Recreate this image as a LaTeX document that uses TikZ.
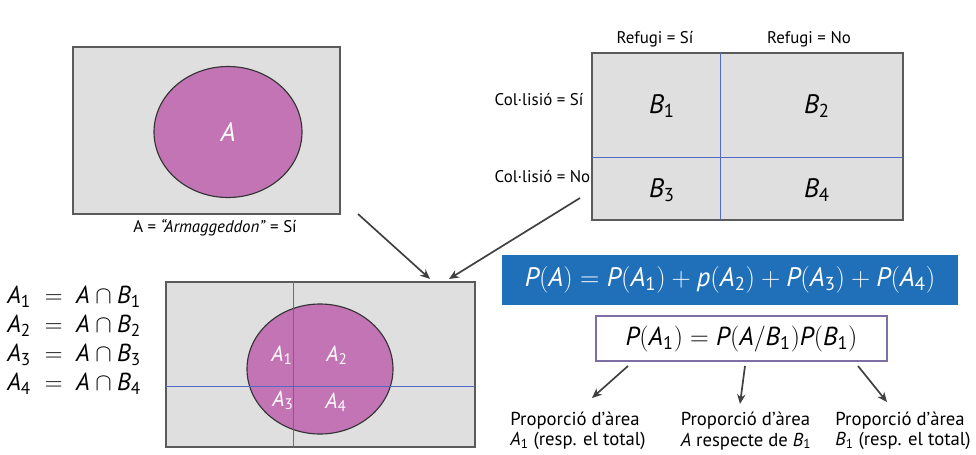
\RequirePackage{fix-cm}
\documentclass[tikz,border=0pt]{standalone}
\usepackage{amsmath}
\usepackage{fontspec}
\setmainfont{PT Sans}
\usetikzlibrary{arrows.meta,positioning}

\definecolor{panelgray}{HTML}{DEDFDE}
\definecolor{paneledge}{HTML}{5B5B5B}
\definecolor{blobpink}{HTML}{C274B5}
\definecolor{gridblue}{HTML}{5468C8}
\definecolor{boxblue}{HTML}{1F6FB9}
\definecolor{boxedge}{HTML}{7D6EA6}
\definecolor{arrowgray}{HTML}{404040}

\newcommand{\ev}[2]{\textit{#1}_{\text{#2}}}
\newcommand{\evi}[1]{\textit{#1}}

\tikzset{
  panel/.style={draw=paneledge, line width=1.5pt, fill=panelgray},
  blob/.style={draw=black!80, line width=0.8pt, fill=blobpink},
  gridline/.style={draw=gridblue, line width=0.5pt},
  pointer/.style={draw=arrowgray, line width=1.2pt, -{Stealth[length=7pt,width=6pt]}},
  tag/.style={font=\fontsize{12}{14}\selectfont, inner sep=1pt},
  setname/.style={font=\fontsize{19}{21}\selectfont, inner sep=1pt},
  partname/.style={font=\fontsize{15.5}{17}\selectfont, text=white, inner sep=1pt},
  formula/.style={font=\fontsize{18.5}{21}\selectfont, inner sep=0pt},
  note/.style={font=\fontsize{13.3}{14.5}\selectfont, align=left, inner sep=1pt}
}

\begin{document}
\begin{tikzpicture}[x=0.025cm, y=-0.025cm]
\useasboundingbox[fill=white] (0,0) rectangle (976,455);

% event A
\draw[panel] (73,47) rectangle (340,214);
\draw[blob] (228,132) ellipse [x radius=74, y radius=65.5];
\node[setname, text=white] (lblA) at (228,132) {\textit{A}};
\node[tag] (armag) at (215,228) {A = \textit{“Armaggeddon”} = Sí};
\coordinate (fromA) at (358,214);

% partition B
\draw[panel] (592,53) rectangle (903,220);
\draw[gridline] (720,53) -- (720,220);
\draw[gridline] (592,157) -- (903,157);
\node[setname] (b1) at (662,106) {$\ev{B}{1}$};
\node[setname] (b2) at (817,106) {$\ev{B}{2}$};
\node[setname] (b3) at (662,190) {$\ev{B}{3}$};
\node[setname] (b4) at (817,190) {$\ev{B}{4}$};
\node[tag] (refsi) at (655,39) {Refugi = Sí};
\node[tag] (refno) at (809,39) {Refugi = No};
\node[tag, anchor=west] (colsi) at (493,100) {Col·lisió = Sí};
\node[tag, anchor=west] (colno) at (493,177) {Col·lisió = No};
\coordinate (fromB) at (580,198);

% A cut by the partition
\draw[panel] (166,282) rectangle (475,447);
\draw[blob] (320,369) ellipse [x radius=73, y radius=65];
\draw[gridline] (293,282) -- (293,447);
\draw[gridline] (166,386) -- (475,386);
\node[partname] (a1) at (282,355) {$\ev{A}{1}$};
\node[partname] (a2) at (337,355) {$\ev{A}{2}$};
\node[partname] (a3) at (283,400) {$\ev{A}{3}$};
\node[partname] (a4) at (336,402) {$\ev{A}{4}$};
\coordinate (toAB1) at (430,279);
\coordinate (toAB2) at (449,279);

\foreach \i in {1,...,4}
  \node[formula, font=\fontsize{17.5}{19}\selectfont, anchor=west] (def\i) at (7,{297+29*(\i-1)})
    {$\ev{A}{\i} \;=\; \evi{A} \cap \ev{B}{\i}$};

\draw[pointer] (fromA) -- (toAB1);
\draw[pointer] (fromB) -- (toAB2);

% total probability
\node[formula, font=\fontsize{19}{21}\selectfont, fill=boxblue, text=white, minimum width=11.375cm, minimum height=1.225cm] (total) at (730,280)
  {$\evi{P}(\evi{A}) = \evi{P}(\ev{A}{1}) + \evi{p}(\ev{A}{2}) + \evi{P}(\ev{A}{3}) + \evi{P}(\ev{A}{4})$};
\node[formula, draw=boxedge, line width=0.8pt, fill=white, minimum width=7.275cm, minimum height=1.125cm] (cond) at (741.5,338.5)
  {$\evi{P}(\ev{A}{1}) = \evi{P}(\evi{A}/\ev{B}{1})\evi{P}(\ev{B}{1})$};

\node[note] (n1) at (578,431) {Proporció d’àrea\\$\ev{A}{1}$ (resp. el total)};
\node[note] (n2) at (746,431) {Proporció d’àrea\\\textit{A} respecte de $\ev{B}{1}$};
\node[note] (n3) at (903,431) {Proporció d’àrea\\$\ev{B}{1}$ (resp. el total)};

\coordinate (c1) at (628,366);
\coordinate (c2) at (745,366);
\coordinate (c3) at (858,366);
\coordinate (t1) at (592,398);
\coordinate (t2) at (740,404);
\coordinate (t3) at (887,402);
\draw[pointer] (c1) -- (t1);
\draw[pointer] (c2) -- (t2);
\draw[pointer] (c3) -- (t3);
\end{tikzpicture}
\end{document}
